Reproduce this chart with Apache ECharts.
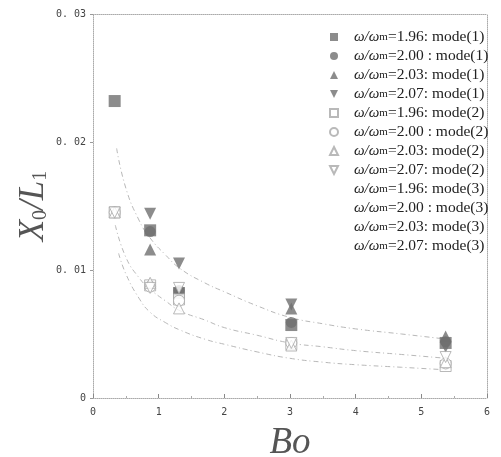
<!DOCTYPE html>
<html>
<head>
<meta charset="utf-8">
<script src="https://cdn.jsdelivr.net/npm/echarts@6/dist/echarts.min.js"></script>
<style>
html, body { margin: 0; padding: 0; background: #fff; }
#chart { width: 501px; height: 457px; }
</style>
</head>
<body>
<div id="chart"></div>
<script>
// Bo values where the points sit
var boValues = [0.33, 0.87, 1.31, 3.02, 5.37];

// mode(1): filled markers
var m1_196 = [0.0232, 0.0131, 0.0082, 0.0057, 0.0043];
var m1_200 = [null, 0.0130, 0.0084, 0.0059, 0.0044];
var m1_203 = [null, 0.0116, 0.0082, 0.0070, 0.0048];
var m1_207 = [null, 0.0144, 0.0105, 0.0073, 0.0040];

// mode(2): hollow markers
var m2_196 = [0.0145, 0.0088, 0.0077, 0.0042, 0.0025];
var m2_200 = [0.0145, 0.0087, 0.0076, 0.0043, 0.0027];
var m2_203 = [0.0145, 0.0090, 0.0070, 0.0041, 0.0028];
var m2_207 = [0.0145, 0.0086, 0.0086, 0.0043, 0.0032];

// dashed fit curves
var curve1Bo = [0.36, 0.5, 0.7, 0.87, 1.1, 1.33, 1.7, 2.0, 2.5, 3.0, 3.5, 4.0, 4.7, 5.38];
var curve1Y = [0.0195, 0.0164, 0.0139, 0.0125, 0.0112, 0.0101, 0.0090, 0.0083, 0.0072, 0.0063, 0.0058, 0.0054, 0.0050, 0.0046];
var curve2Bo = [0.34, 0.5, 0.7, 0.87, 1.1, 1.33, 1.7, 2.0, 2.5, 3.0, 3.5, 4.0, 4.7, 5.38];
var curve2Y = [0.0135, 0.0110, 0.0094, 0.0085, 0.0076, 0.0068, 0.0061, 0.0055, 0.0049, 0.0043, 0.0040, 0.0037, 0.0034, 0.0031];
var curve3Bo = [0.39, 0.5, 0.7, 0.87, 1.1, 1.33, 1.7, 2.0, 2.5, 3.0, 3.5, 4.0, 4.7, 5.38];
var curve3Y = [0.0113, 0.0097, 0.0078, 0.0067, 0.0059, 0.0053, 0.0046, 0.0042, 0.0036, 0.0031, 0.0028, 0.0026, 0.0024, 0.0022];

var xTicks = [0, 1, 2, 3, 4, 5, 6];
var yTicks = [0, 0.01, 0.02, 0.03];

var freqs = ['1.96', '2.00 ', '2.03', '2.07'];
var shapes = ['rect', 'circle', 'triangle', 'path://M0,0 L10,0 L5,10 Z'];
var mode1 = [m1_196, m1_200, m1_203, m1_207];
var mode2 = [m2_196, m2_200, m2_203, m2_207];

function pairs(xs, ys) {
    var out = []
    for (var i = 0; i < xs.length; i++) {
        if (ys[i] != null) out.push([xs[i], ys[i]])
    }
    return out
}

function label(freq, mode) {
    return 'ω/ωm=' + freq + ': mode(' + mode + ')'
}

var series = []
var legendData = []
freqs.forEach(function (f, i) {
    var name = label(f, 1)
    legendData.push({ name: name, icon: shapes[i] })
    series.push({
        name: name, type: 'scatter', symbol: shapes[i], symbolSize: i == 1 ? 11 : 12,
        itemStyle: { color: '#6f6f6f' },
        data: pairs(boValues, mode1[i]), z: 3
    })
})
freqs.forEach(function (f, i) {
    var name = label(f, 2)
    legendData.push({ name: name, icon: shapes[i] })
    series.push({
        name: name, type: 'scatter', symbol: shapes[i], symbolSize: 11,
        itemStyle: { color: '#fff', borderColor: '#a8a8a8', borderWidth: 1 },
        data: pairs(boValues, mode2[i]), z: 4
    })
})
freqs.forEach(function (f) {
    var name = label(f, 3)
    legendData.push({ name: name, icon: 'none' })
    series.push({ name: name, type: 'scatter', symbol: 'none', data: [] })
})

var curves = [[curve1Bo, curve1Y], [curve2Bo, curve2Y], [curve3Bo, curve3Y]]
curves.forEach(function (c) {
    series.push({
        type: 'line', smooth: true, symbol: 'none', silent: true,
        lineStyle: { color: '#b8b8b8', width: 1, type: [5, 3, 1, 3] },
        data: pairs(c[0], c[1]), z: 1
    })
})

var chart = echarts.init(document.getElementById('chart'))
var tickFont = { color: '#444', fontSize: 10, fontFamily: 'DejaVu Sans Mono' }
var edge = { show: true, onZero: false, lineStyle: { color: '#aaa', width: 1, type: 'dotted' } }

chart.setOption({
    backgroundColor: '#fff',
    animation: false,
    grid: { left: 93, right: 14, top: 14, bottom: 59, outerBoundsMode: 'none' },
    legend: {
        data: legendData,
        orient: 'vertical',
        left: 324, top: 24,
        itemWidth: 8, itemHeight: 8, itemGap: 3,
        selectedMode: false,
        formatter: function (name) {
            return name.replace('ω/ωm', '{i|ω/ω}{m|m}')
        },
        textStyle: {
            color: '#222', fontSize: 15.5, fontFamily: 'Liberation Serif', padding: [0, 0, 0, 11],
            rich: {
                i: { fontStyle: 'italic', fontSize: 15, fontFamily: 'Liberation Serif', color: '#222' },
                m: { fontSize: 11, fontFamily: 'Liberation Serif', color: '#222' }
            }
        }
    },
    xAxis: [{
        type: 'value', min: 0, max: 6, interval: 1,
        name: 'Bo', nameLocation: 'middle', nameGap: 27, nameMoveOverlap: false,
        nameTextStyle: { fontFamily: 'Liberation Serif', fontStyle: 'italic', fontSize: 37, color: '#555' },
        axisLine: edge,
        axisTick: { show: true, inside: true, length: 4, lineStyle: { color: '#888' } },
        minorTick: { show: true, splitNumber: 2, length: 2, lineStyle: { color: '#aaa' } },
        axisLabel: Object.assign({ margin: 9, formatter: function (v) { return xTicks.indexOf(v) >= 0 ? String(v) : '' } }, tickFont),
        splitLine: { show: false }
    }, {
        type: 'value', min: 0, max: 6, position: 'top',
        axisLine: edge, axisTick: { show: false }, axisLabel: { show: false }, splitLine: { show: false }
    }],
    yAxis: [{
        type: 'value', min: 0, max: 0.03, interval: 0.01,
        name: '{a|X}{s|0}{a|/L}{s|1}', nameLocation: 'middle', nameGap: 42, nameRotate: 90, nameMoveOverlap: false,
        nameTextStyle: {
            rich: {
                a: { fontFamily: 'Liberation Serif', fontStyle: 'italic', fontSize: 35, color: '#555' },
                s: { fontFamily: 'Liberation Serif', fontSize: 20, color: '#555', verticalAlign: 'bottom', padding: [14, 0, 0, 0] }
            }
        },
        axisLine: edge,
        axisTick: { show: true, length: 3, lineStyle: { color: '#999' } },
        axisLabel: Object.assign({ margin: 7, formatter: function (v) {
            return v === 0 ? '0' : v.toFixed(2).replace('.', '. ')
        } }, tickFont),
        splitLine: { show: false }
    }, {
        type: 'value', min: 0, max: 0.03, position: 'right',
        axisLine: edge, axisTick: { show: false }, axisLabel: { show: false }, splitLine: { show: false }
    }],
    series: series
})
</script>
</body>
</html>
